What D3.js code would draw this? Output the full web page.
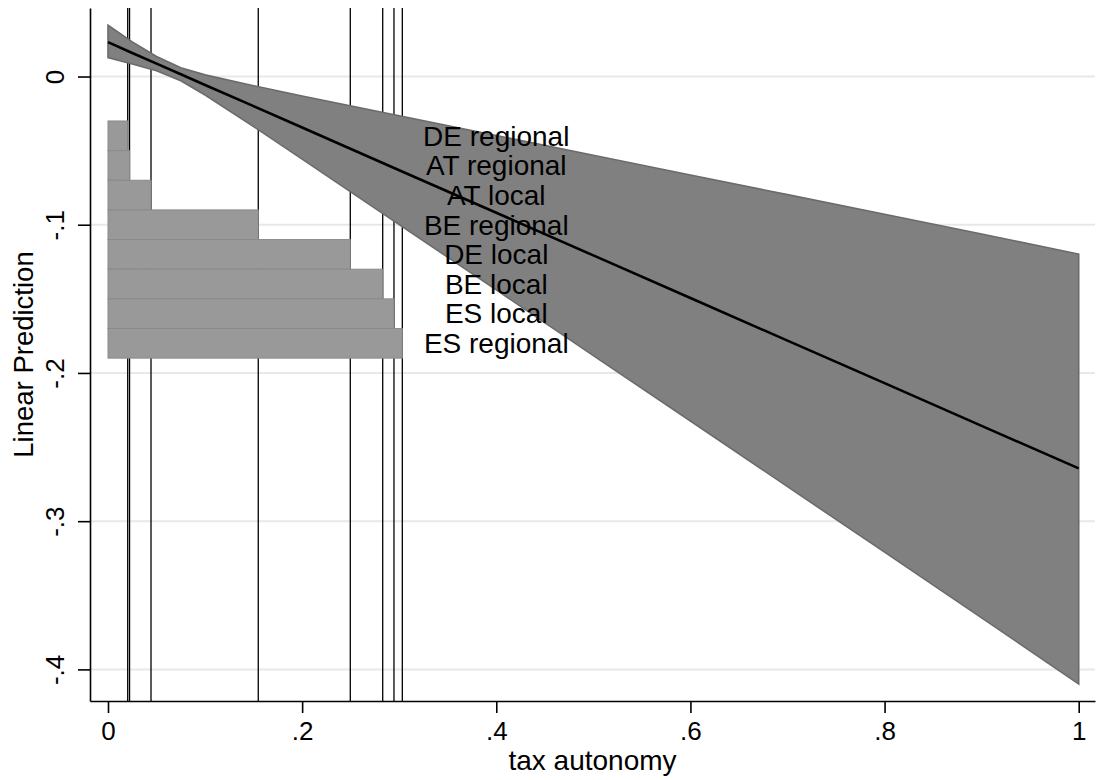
<!DOCTYPE html>
<html>
<head>
<meta charset="utf-8">
<script src="https://cdn.jsdelivr.net/npm/d3@7"></script>
<style>
  html, body { margin: 0; padding: 0; background: #fff; }
  svg { display: block; }
  text { font-family: "Liberation Sans", Arial, Helvetica, sans-serif; fill: #000; }
</style>
</head>
<body>
<svg id="chart" width="1097" height="780"></svg>
<script>
// Predicted values of the outcome over tax autonomy, with 95% band
const gridX = [0, 0.025, 0.05, 0.075, 0.1, 0.15, 0.2, 0.3, 0.4, 0.5, 0.6, 0.7, 0.8, 0.9, 1];
const fitY  = [0.0232, 0.0159, 0.0087, 0.0015, -0.0057, -0.0200, -0.0344, -0.0632, -0.0919, -0.1207, -0.1494, -0.1782, -0.2069, -0.2357, -0.2644];
const loY   = [0.0128, 0.0084, 0.0039, -0.0029, -0.0125, -0.0338, -0.0557, -0.0999, -0.1440, -0.1883, -0.2324, -0.2767, -0.3209, -0.3652, -0.4099];
const hiY   = [0.0346, 0.0234, 0.0135, 0.0059, 0.0011, -0.0062, -0.0131, -0.0265, -0.0398, -0.0531, -0.0664, -0.0797, -0.0929, -0.1062, -0.1198];

// Observed tax autonomy of each government tier
const units    = ["DE regional", "AT regional", "AT local", "BE regional", "DE local", "BE local", "ES local", "ES regional"];
const autonomy = [0.0203, 0.0222, 0.0443, 0.1548, 0.2496, 0.2830, 0.2946, 0.3032];

// Axis ticks
const xTicks = [0, 0.2, 0.4, 0.6, 0.8, 1];
const xTickLabels = ["0", ".2", ".4", ".6", ".8", "1"];
const yTicks = [0, -0.1, -0.2, -0.3, -0.4];
const yTickLabels = ["0", "-.1", "-.2", "-.3", "-.4"];

// Placement of the tier bars/labels in data units
const barTop = -0.03, barStep = 0.02, labelX = 0.4;

const svg = d3.select("#chart");
const L = 90, R = 1095, T = 8, B = 701;

const x = d3.scaleLinear().domain([-0.01854, 1.01679]).range([L, R]);
const y = d3.scaleLinear().domain([0.04622, -0.42132]).range([T, B]);

// gridlines
svg.append("g").selectAll("line").data(yTicks).join("line")
  .attr("x1", L).attr("x2", R)
  .attr("y1", d => y(d)).attr("y2", d => y(d))
  .attr("stroke", "#e8e8e8").attr("stroke-width", 2);

// reference lines at each tier's autonomy
svg.append("g").selectAll("line").data(autonomy).join("line")
  .attr("x1", d => x(d)).attr("x2", d => x(d))
  .attr("y1", T).attr("y2", B)
  .attr("stroke", "#000").attr("stroke-width", 1.3);

// horizontal bars from zero to each tier's autonomy
svg.append("g").selectAll("rect").data(autonomy).join("rect")
  .attr("x", x(0))
  .attr("y", (d, i) => y(barTop - barStep * i))
  .attr("width", d => x(d) - x(0))
  .attr("height", (d, i) => y(barTop - barStep * (i + 1)) - y(barTop - barStep * i))
  .attr("fill", "#999999").attr("stroke", "#8a8a8a").attr("stroke-width", 1);

// confidence band
const pts = gridX.map((v, i) => ({x: v, fit: fitY[i], lo: loY[i], hi: hiY[i]}));
svg.append("path").datum(pts)
  .attr("d", d3.area().x(d => x(d.x)).y0(d => y(d.lo)).y1(d => y(d.hi)))
  .attr("fill", "#808080").attr("stroke", "#6b6b6b").attr("stroke-width", 1.6);

// fitted line
svg.append("path").datum(pts)
  .attr("d", d3.line().x(d => x(d.x)).y(d => y(d.fit)))
  .attr("fill", "none").attr("stroke", "#000").attr("stroke-width", 2.6);

// tier labels
svg.append("g").selectAll("text").data(units).join("text")
  .attr("x", x(labelX))
  .attr("y", (d, i) => y(barTop - barStep * (i + 0.5)))
  .attr("dy", "0.35em")
  .attr("text-anchor", "middle")
  .attr("font-size", 28)
  .text(d => d);

// axes
const xAxis = d3.axisBottom(x).tickValues(xTicks)
  .tickFormat((d, i) => xTickLabels[i]).tickSize(12).tickSizeOuter(0).tickPadding(9);
const gx = svg.append("g").attr("transform", `translate(0,${B})`).call(xAxis);
gx.select(".domain").attr("stroke", "#000").attr("stroke-width", 1.6);
gx.selectAll(".tick line").attr("stroke", "#000").attr("stroke-width", 1.6);
gx.selectAll(".tick text").attr("font-size", 26).attr("font-family", null);

const yAxis = d3.axisLeft(y).tickValues(yTicks)
  .tickFormat((d, i) => yTickLabels[i]).tickSize(12).tickSizeOuter(0);
const gy = svg.append("g").attr("transform", `translate(${L},0)`).call(yAxis);
gy.select(".domain").attr("stroke", "#000").attr("stroke-width", 1.6);
gy.selectAll(".tick line").attr("stroke", "#000").attr("stroke-width", 1.6);
gy.selectAll(".tick text")
  .attr("font-size", 26).attr("font-family", null)
  .attr("x", null).attr("dy", null)
  .attr("text-anchor", "middle")
  .attr("transform", "translate(-26,0) rotate(-90)");

// axis titles
svg.append("text")
  .attr("x", (L + R) / 2).attr("y", 770)
  .attr("text-anchor", "middle").attr("font-size", 28)
  .text("tax autonomy");
svg.append("text")
  .attr("transform", `translate(33,${(T + B) / 2}) rotate(-90)`)
  .attr("text-anchor", "middle").attr("font-size", 27.5)
  .text("Linear Prediction");
</script>
</body>
</html>
